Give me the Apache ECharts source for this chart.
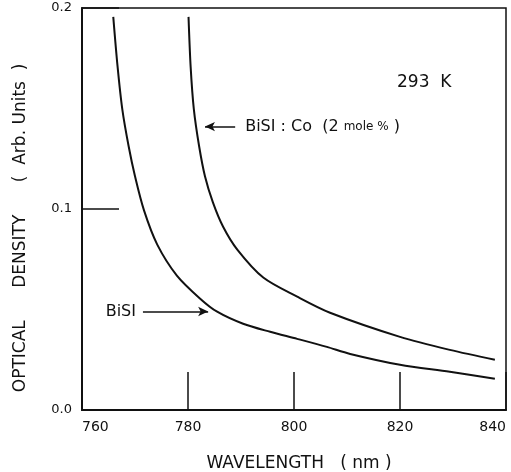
<!DOCTYPE html>
<html>
<head>
<meta charset="utf-8">
<script src="https://cdn.jsdelivr.net/npm/echarts@6/dist/echarts.min.js"></script>
<style>
  html, body { margin: 0; padding: 0; background: #fff; }
  #chart { width: 511px; height: 472px; }
</style>
</head>
<body>
<div id="chart"></div>
<script>
// values (wavelength nm, optical density)
var xTicks = [760, 780, 800, 820, 840];
var yTicks = [0.0, 0.1, 0.2];

var bisiWl = [765.9, 766.7, 767.6, 768.8, 770.0, 771.7, 774.2, 777.9, 782.3, 785.5, 790.4, 795.5, 800.6, 806.2, 810.6, 820.0, 829.4, 837.9];
var bisiOd = [0.1956, 0.1712, 0.1497, 0.1312, 0.1163, 0.0993, 0.0823, 0.0669, 0.0554, 0.0489, 0.0429, 0.0389, 0.0354, 0.0314, 0.0279, 0.0225, 0.019, 0.0155];

var coWl = [780.1, 780.5, 781.1, 782.1, 783.2, 784.7, 786.6, 789.3, 794.2, 800.6, 806.8, 820.0, 829.4, 837.9];
var coOd = [0.1956, 0.1707, 0.1497, 0.1312, 0.1163, 0.1033, 0.0913, 0.0798, 0.0659, 0.0564, 0.0484, 0.0364, 0.0299, 0.025];

// arrow annotations
var coArrow = [[783.2, 0.141], [788.9, 0.141]];
var bisiArrow = [[771.5, 0.049], [783.8, 0.049]];

function pairs(xs, ys) {
    var out = [];
    for (var i = 0; i < xs.length; i++) out.push([xs[i], ys[i]]);
    return out;
}

var font = 'DejaVu Sans';
var ink = '#111';

var myChart = echarts.init(document.getElementById('chart'));
var option = {
    backgroundColor: '#fff',
    animation: false,
    grid: {
        left: 82, right: 5, top: 8, bottom: 62,
        show: true, borderColor: ink, borderWidth: 1.5,
        outerBoundsMode: 'none'
    },
    xAxis: {
        type: 'value',
        min: xTicks[0], max: xTicks[xTicks.length - 1], interval: 20,
        name: 'WAVELENGTH   ( nm )',
        nameLocation: 'middle',
        nameGap: 45,
        nameTextStyle: { color: ink, fontFamily: font, fontSize: 17, padding: [0, 0, 0, 10] },
        axisLine: { lineStyle: { color: ink, width: 2 } },
        axisTick: { inside: true, length: 38, lineStyle: { color: ink, width: 1.5 } },
        axisLabel: {
            color: ink, fontFamily: font, fontSize: 14, margin: 10,
            alignMinLabel: 'left', alignMaxLabel: 'right'
        },
        splitLine: { show: false }
    },
    yAxis: {
        type: 'value',
        min: yTicks[0], max: yTicks[yTicks.length - 1], interval: 0.1,
        name: 'OPTICAL      DENSITY      (  Arb. Units  )       ',
        nameLocation: 'middle',
        nameGap: 53,
        nameTextStyle: { color: ink, fontFamily: font, fontSize: 17 },
        axisLine: { lineStyle: { color: ink, width: 2 } },
        axisTick: { inside: true, length: 37, lineStyle: { color: ink, width: 1.5 } },
        axisLabel: {
            color: ink, fontFamily: font, fontSize: 13, margin: 10,
            formatter: function (v) { return v.toFixed(1); }
        },
        splitLine: { show: false }
    },
    graphic: [{
        type: 'text',
        left: 397, top: 74,
        style: { text: '293  K', fill: ink, font: '17px "DejaVu Sans"' }
    }],
    series: [
        {
            name: 'BiSI',
            type: 'line',
            data: pairs(bisiWl, bisiOd),
            smooth: 0.3,
            showSymbol: false,
            lineStyle: { color: ink, width: 2 },
            markLine: {
                silent: true,
                symbol: ['none', 'arrow'],
                symbolSize: [7, 10],
                lineStyle: { color: ink, width: 1.5, type: 'solid' },
                label: {
                    show: true, position: 'start', distance: 7,
                    formatter: 'BiSI', color: ink, fontFamily: font, fontSize: 16
                },
                data: [[{ coord: bisiArrow[0] }, { coord: bisiArrow[1] }]]
            }
        },
        {
            name: 'BiSI:Co',
            type: 'line',
            data: pairs(coWl, coOd),
            smooth: 0.3,
            showSymbol: false,
            lineStyle: { color: ink, width: 2 },
            markLine: {
                silent: true,
                symbol: ['arrow', 'none'],
                symbolSize: [7, 10],
                lineStyle: { color: ink, width: 1.5, type: 'solid' },
                label: {
                    show: true, position: 'end', distance: 10,
                    formatter: '{a|BiSI : Co  (2 }{b|mole %}{a| )}',
                    rich: {
                        a: { color: ink, fontFamily: font, fontSize: 16 },
                        b: { color: ink, fontFamily: font, fontSize: 12 }
                    }
                },
                data: [[{ coord: coArrow[0] }, { coord: coArrow[1] }]]
            }
        }
    ]
};
myChart.setOption(option);
</script>
</body>
</html>
